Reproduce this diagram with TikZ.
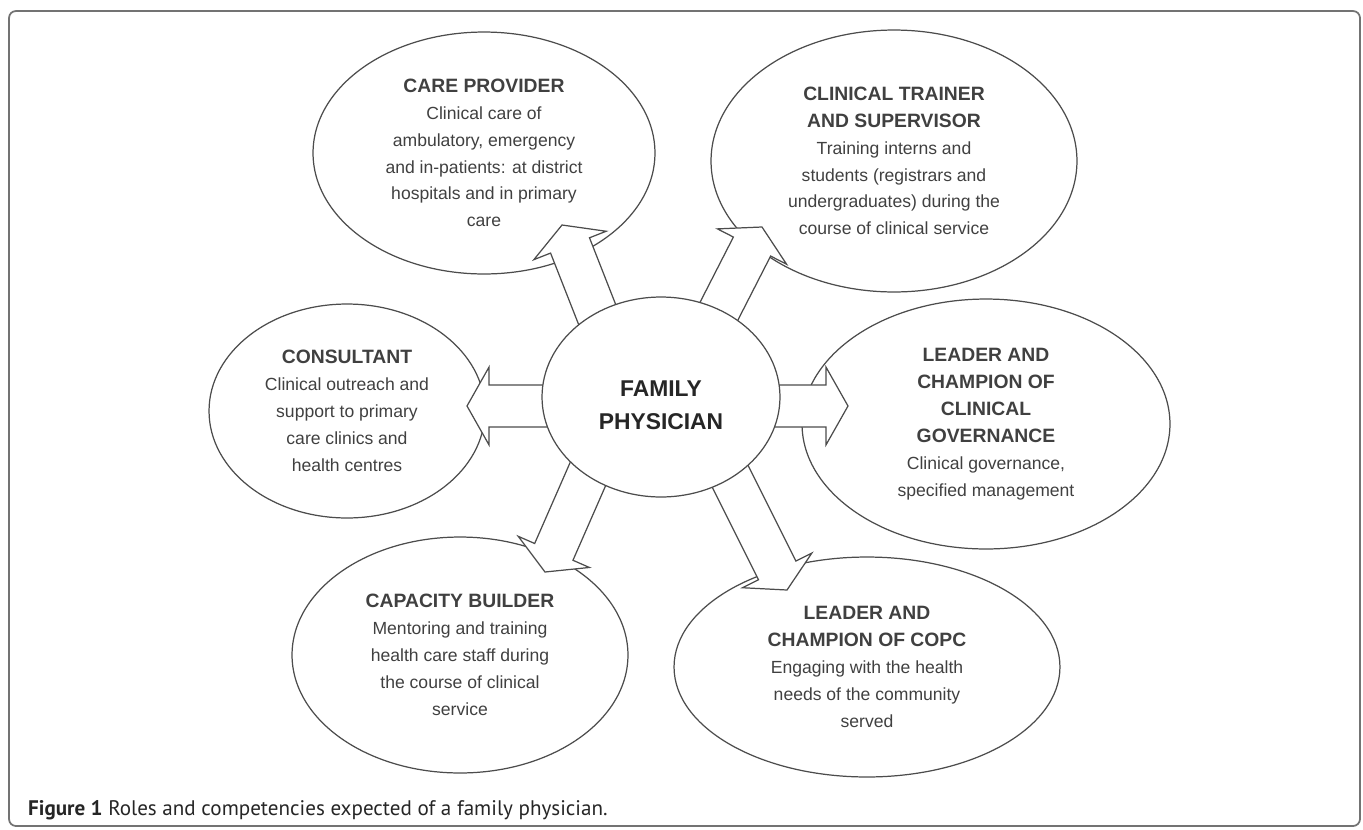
\documentclass[tikz,border=0pt]{standalone}
\usepackage{fontspec}
\setmainfont{Liberation Sans}
\newfontfamily\capfont{PT Sans}
\usetikzlibrary{shapes.geometric,calc}

\newcommand{\hd}[1]{{\fontsize{11}{15.3}\selectfont\bfseries #1}}
% block arrow from #1 (start) to #2 (tip)
\newcommand{\fatarrow}[2]{%
  \coordinate (fa-a) at (#1);
  \coordinate (fa-b) at (#2);
  \coordinate (fa-c) at ($(fa-b)!12.5pt!(fa-a)$);
  \draw[blockarrow] ($(fa-a)!11.9pt!90:(fa-b)$) -- ($(fa-c)!11.9pt!90:(fa-b)$)
    -- ($(fa-c)!22.1pt!90:(fa-b)$) -- (fa-b) -- ($(fa-c)!22.1pt!-90:(fa-b)$)
    -- ($(fa-c)!11.9pt!-90:(fa-b)$) -- ($(fa-a)!11.9pt!-90:(fa-b)$) -- cycle;}

\begin{document}
\begin{tikzpicture}[x=0.02cm,y=-0.02cm,
    role/.style={ellipse,draw=black!70,line width=0.7pt,inner sep=0pt,align=center,
      text=black!75,font=\fontsize{10}{15.3}\selectfont},
    hub/.style={ellipse,draw=black!70,line width=0.7pt,fill=white,inner sep=0pt,align=center,
      text=black!85,font=\fontsize{13}{18.9}\selectfont\bfseries,
      minimum width=4.76cm,minimum height=4cm},
    blockarrow/.style={draw=black!70,line width=0.7pt,fill=white}]
\useasboundingbox (0,0) rectangle (1363,829);
\draw[black!55,line width=1pt,rounded corners=4pt] (9,11) rectangle (1360,826);

\node[role,minimum width=6.84cm,minimum height=4.84cm] (cp) at (484,153)
  {\hd{CARE PROVIDER}\\Clinical care of\\ambulatory, emergency\\and in-patients: at district\\hospitals and in primary\\care};
\node[role,minimum width=7.32cm,minimum height=5.24cm] (ct) at (894,161)
  {\hd{CLINICAL TRAINER}\\\hd{AND SUPERVISOR}\\Training interns and\\students (registrars and\\undergraduates) during the\\course of clinical service};
\node[role,minimum width=5.52cm,minimum height=4.28cm] (cs) at (347,411)
  {\hd{CONSULTANT}\\Clinical outreach and\\support to primary\\care clinics and\\health centres};
\node[role,minimum width=7.36cm,minimum height=5cm] (lg) at (986,424)
  {\hd{LEADER AND}\\\hd{CHAMPION OF}\\\hd{CLINICAL}\\\hd{GOVERNANCE}\\Clinical governance,\\specified management};
\node[role,minimum width=6.72cm,minimum height=4.72cm] (cb) at (460,655)
  {\hd{CAPACITY BUILDER}\\Mentoring and training\\health care staff during\\the course of clinical\\service};
\node[role,minimum width=7.72cm,minimum height=4.4cm] (lc) at (867,667)
  {\hd{LEADER AND}\\\hd{CHAMPION OF COPC}\\Engaging with the health\\needs of the community\\served};

% arrows out of the hub
\fatarrow{617,365}{562,225}
\fatarrow{694,360}{762,227}
\fatarrow{617,406}{467,406}
\fatarrow{698,406}{848,406}
\fatarrow{605,435}{545,572}
\fatarrow{720,456}{787,590}

\node[hub] (fp) at (661,397) {\rule{0pt}{18.5pt}FAMILY\\PHYSICIAN};

\node[anchor=base west,font=\capfont\fontsize{12}{14}\selectfont,text=black!85] (cap) at (22,815)
  {\textbf{Figure 1} Roles and competencies expected of a family physician.};
\end{tikzpicture}
\end{document}
